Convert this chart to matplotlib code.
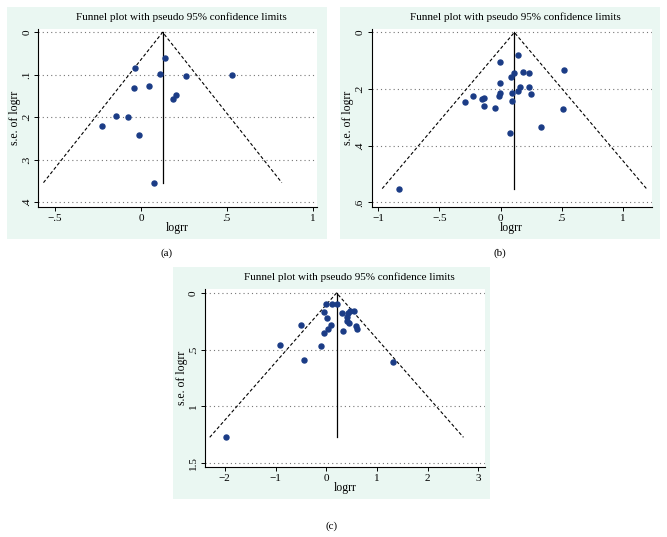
import matplotlib
matplotlib.use("Agg")
import matplotlib.pyplot as plt
from matplotlib.patches import Rectangle

plt.rcParams['font.family'] = ['Liberation Serif', 'DejaVu Serif']

# Panel (a)
logrr_a = [0.138, -0.033, 0.111, 0.260, 0.528, -0.043, 0.047, 0.204, 0.188,
           -0.144, -0.078, -0.225, -0.014, 0.074]
se_a = [0.061, 0.083, 0.098, 0.102, 0.100, 0.131, 0.126, 0.147, 0.158,
        0.197, 0.199, 0.220, 0.241, 0.354]
pooled_a = 0.126

# Panel (b)
logrr_b = [0.144, -0.003, 0.106, 0.185, 0.229, 0.520, 0.082, -0.003, 0.161,
           0.229, -0.003, 0.093, 0.144, -0.014, 0.251, -0.229, -0.155, -0.134,
           -0.294, -0.134, 0.090, -0.049, 0.510, 0.332, 0.074, -0.828]
se_b = [0.080, 0.103, 0.143, 0.140, 0.143, 0.132, 0.157, 0.177, 0.192,
        0.193, 0.212, 0.212, 0.206, 0.223, 0.217, 0.224, 0.236, 0.230,
        0.246, 0.260, 0.241, 0.266, 0.269, 0.335, 0.355, 0.551]
pooled_b = 0.112

# Panel (c)
logrr_c = [0.0, 0.112, 0.21, -0.053, 0.316, 0.474, 0.553, 0.434, 0.414, 0.401,
           0.441, 0.013, -0.507, 0.579, 0.092, 0.026, 0.605, 0.336, -0.046,
           -0.921, -0.105, -0.447, 1.322, -1.967]
se_c = [0.100, 0.100, 0.100, 0.171, 0.180, 0.159, 0.159, 0.180, 0.215, 0.247,
        0.262, 0.224, 0.280, 0.289, 0.280, 0.315, 0.321, 0.336, 0.354,
        0.460, 0.471, 0.589, 0.607, 1.276]
pooled_c = 0.204

xticks_a = [-0.5, 0, 0.5, 1]
xlabels_a = ["\u2212.5", "0", ".5", "1"]
yticks_a = [0, 0.1, 0.2, 0.3, 0.4]
ylabels_a = ["0", ".1", ".2", ".3", ".4"]

xticks_b = [-1, -0.5, 0, 0.5, 1]
xlabels_b = ["\u22121", "\u2212.5", "0", ".5", "1"]
yticks_b = [0, 0.2, 0.4, 0.6]
ylabels_b = ["0", ".2", ".4", ".6"]

xticks_c = [-2, -1, 0, 1, 2, 3]
xlabels_c = ["\u22122", "\u22121", "0", "1", "2", "3"]
yticks_c = [0, 0.5, 1, 1.5]
ylabels_c = ["0", ".5", "1", "1.5"]

W, H = 667, 537
mint = "#eaf7f2"
navy = "#1b3c86"

fig = plt.figure(figsize=(W / 100, H / 100), dpi=100)


def box(l, t, r, b):
    return [l / W, 1 - b / H, (r - l) / W, (b - t) / H]


def panel(bg, area, xlim, ylim, x, se, pooled, xt, xl, yt, yl, tag, tag_xy):
    l, t, r, b = bg
    fig.add_artist(Rectangle((l / W, 1 - b / H), (r - l) / W, (b - t) / H,
                             transform=fig.transFigure, facecolor=mint,
                             edgecolor="none", zorder=0))
    ax = fig.add_axes(box(*area))
    ax.set_facecolor("white")
    ax.set_xlim(*xlim)
    ax.set_ylim(ylim[1], ylim[0])
    for s in ["top", "right"]:
        ax.spines[s].set_visible(False)
    for s in ["left", "bottom"]:
        ax.spines[s].set_linewidth(0.8)
    ax.set_xticks(xt)
    ax.set_xticklabels(xl)
    ax.set_yticks(yt)
    ax.set_yticklabels(yl, rotation=90, va="center")
    ax.tick_params(length=3, width=0.7, labelsize=8, pad=2)
    ax.yaxis.grid(True, linestyle=(0, (1, 2.8)), color="#777777", linewidth=0.8)
    ax.set_axisbelow(True)

    semax = max(se)
    ax.plot([pooled, pooled], [0, semax], color="black", lw=0.9)
    ax.plot([pooled - 1.96 * semax, pooled, pooled + 1.96 * semax],
            [semax, 0, semax], color="black", lw=0.8, linestyle=(0, (3, 2)))
    ax.plot(x, se, "o", color=navy, markersize=3.6, linestyle="none")

    ax.set_xlabel("logrr", fontsize=8.5, labelpad=-1)
    ax.set_ylabel("s.e. of logrr", fontsize=8.5, labelpad=1)
    cx = (area[0] + area[2]) / 2 + 4
    fig.text(cx / W, 1 - (area[1] - 12) / H,
             "Funnel plot with pseudo 95% confidence limits",
             ha="center", va="center", fontsize=8)
    fig.text(tag_xy[0] / W, 1 - tag_xy[1] / H, tag, ha="center",
             va="center", fontsize=8)
    return ax


panel((7, 7, 327, 239), (38.3, 29.3, 316.7, 207.3), (-0.598, 1.023),
      (-0.007, 0.412), logrr_a, se_a, pooled_a,
      xticks_a, xlabels_a, yticks_a, ylabels_a, "(a)", (167, 253))
panel((340, 7, 660, 239), (371.7, 29.3, 651.7, 207.3), (-1.054, 1.235),
      (-0.011, 0.617), logrr_b, se_b, pooled_b,
      xticks_b, xlabels_b, yticks_b, ylabels_b, "(b)", (500, 253))
panel((173, 267, 490, 499), (205, 289.3, 485, 467.3), (-2.39, 3.13),
      (-0.032, 1.541), logrr_c, se_c, pooled_c,
      xticks_c, xlabels_c, yticks_c, ylabels_c, "(c)", (332, 526))

fig.savefig("out.png", dpi=100)
